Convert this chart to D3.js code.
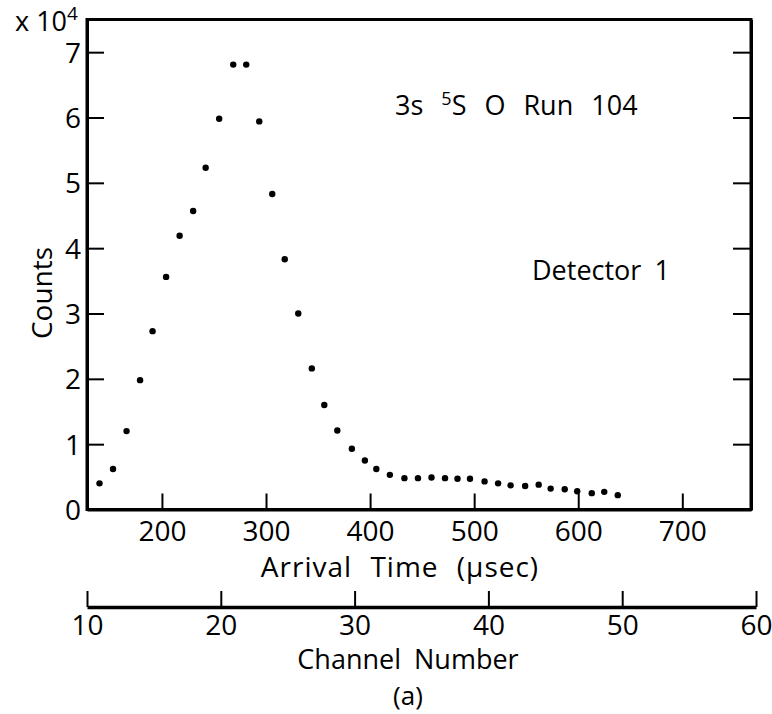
<!DOCTYPE html>
<html>
<head>
<meta charset="utf-8">
<script src="https://cdn.jsdelivr.net/npm/d3@7"></script>
<style>
  body { margin: 0; background: #fff; }
  svg text { font-family: "Open Sans", sans-serif; fill: #000; }
  .axis path, .axis line { stroke: #000; }
</style>
</head>
<body>
<div id="chart"></div>
<script>
// DATA (counts in units of 10^4)
const arrivalTimes = [140, 153, 166, 179, 191, 204, 217, 230, 242, 255,
  268.5, 281, 293.5, 306, 318, 331, 344, 356, 368.5, 382.5,
  395, 406, 419, 433, 446, 459, 472, 484, 496, 510,
  523, 535, 549, 562, 573.5, 587, 599, 613, 625, 638];
const counts = [0.40, 0.62, 1.20, 1.98, 2.73, 3.56, 4.19, 4.57, 5.23, 5.98,
  6.81, 6.81, 5.94, 4.83, 3.83, 3.00, 2.16, 1.60, 1.21, 0.93,
  0.75, 0.62, 0.53, 0.48, 0.48, 0.49, 0.48, 0.47, 0.47, 0.43,
  0.40, 0.37, 0.36, 0.38, 0.32, 0.31, 0.28, 0.25, 0.27, 0.22];
const timeTicks = [200, 300, 400, 500, 600, 700];
const countTicks = [0, 1, 2, 3, 4, 5, 6, 7];
const channelTicks = [10, 20, 30, 40, 50, 60];

// GLOBALS
const width = 772;
const height = 714;
const plot = { left: 87, right: 751, top: 19.5, bottom: 509.5 };

const svg = d3.select('#chart')
  .append('svg')
  .attr('width', width)
  .attr('height', height);

const x = d3.scaleLinear()
  .domain([128, 766])
  .range([plot.left, plot.right]);

const y = d3.scaleLinear()
  .domain([0, 7.5])
  .range([plot.bottom, plot.top]);

const xChan = d3.scaleLinear()
  .domain([10, 60])
  .range([87, 756]);

// FRAME
svg.append('rect')
  .attr('x', plot.left)
  .attr('y', plot.top)
  .attr('width', plot.right - plot.left)
  .attr('height', plot.bottom - plot.top)
  .attr('fill', 'none')
  .attr('stroke', '#000')
  .attr('stroke-width', 3);

// AXES (ticks point inward)
const xAxis = svg.append('g')
  .attr('class', 'axis')
  .attr('transform', `translate(0,${plot.bottom})`)
  .call(d3.axisBottom(x).tickValues(timeTicks).tickSize(-16).tickSizeOuter(0).tickPadding(12));

const yAxis = svg.append('g')
  .attr('class', 'axis')
  .attr('transform', `translate(${plot.left},0)`)
  .call(d3.axisLeft(y).tickValues(countTicks).tickSize(-17).tickSizeOuter(0).tickPadding(6));

const yAxisRight = svg.append('g')
  .attr('class', 'axis')
  .attr('transform', `translate(${plot.right},0)`)
  .call(d3.axisRight(y).tickValues(countTicks.filter(d => d > 0)).tickSize(-18).tickSizeOuter(0).tickFormat(''));

const chanAxis = svg.append('g')
  .attr('class', 'axis')
  .attr('transform', 'translate(0,607)')
  .call(d3.axisBottom(xChan).tickValues(channelTicks).tickSize(-16).tickSizeOuter(0).tickPadding(8));

[xAxis, yAxis, yAxisRight, chanAxis].forEach(g => {
  g.select('.domain').attr('stroke-width', 3);
  g.selectAll('.tick line').attr('stroke-width', 2);
  g.selectAll('.tick text').style('font-size', '28px');
});
yAxis.selectAll('.tick text').attr('dy', '0.36em');
chanAxis.select('.domain').attr('stroke-width', 3.5);

// POINTS
svg.append('g')
  .selectAll('circle')
  .data(arrivalTimes.map((t, i) => ({ t: t, c: counts[i] })))
  .join('circle')
  .attr('cx', d => x(d.t))
  .attr('cy', d => y(d.c))
  .attr('r', 3.2)
  .attr('fill', '#000');

// LABELS
const mult = svg.append('text')
  .attr('x', 15)
  .attr('y', 31)
  .style('font-size', '27px');
mult.append('tspan').text('x 10');
mult.append('tspan').attr('dy', -11).style('font-size', '19px').text('4');

svg.append('text')
  .attr('transform', 'translate(52,293) rotate(-90)')
  .attr('text-anchor', 'middle')
  .style('font-size', '28px')
  .text('Counts');

svg.append('text')
  .attr('x', 400)
  .attr('y', 577)
  .attr('text-anchor', 'middle')
  .style('font-size', '28px')
  .style('word-spacing', '10px')
  .style('letter-spacing', '1px')
  .text('Arrival Time (\u00b5sec)');

svg.append('text')
  .attr('x', 408)
  .attr('y', 669)
  .attr('text-anchor', 'middle')
  .style('font-size', '27px')
  .style('word-spacing', '6px')
  .text('Channel Number');

svg.append('text')
  .attr('x', 408)
  .attr('y', 705)
  .attr('text-anchor', 'middle')
  .style('font-size', '26px')
  .text('(a)');

const title = svg.append('text')
  .attr('x', 395)
  .attr('y', 115)
  .style('font-size', '27px')
  .style('word-spacing', '11px');
title.append('tspan').text('3s ');
title.append('tspan').attr('dy', -10).style('font-size', '18px').text('5');
title.append('tspan').attr('dy', 10).text('S O Run 104');

svg.append('text')
  .attr('x', 532)
  .attr('y', 280)
  .style('font-size', '27px')
  .style('word-spacing', '6px')
  .text('Detector 1');
</script>
</body>
</html>
